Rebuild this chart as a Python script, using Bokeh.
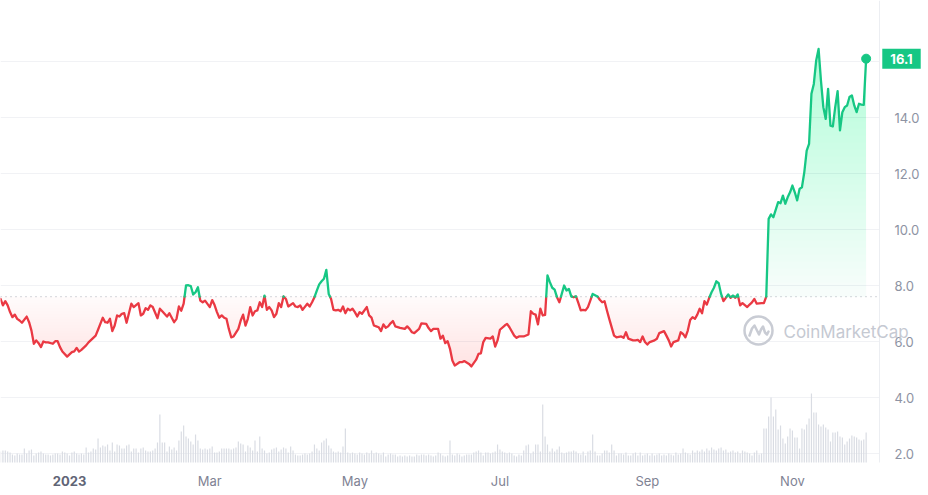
import numpy as np
import pandas as pd
from bokeh.plotting import figure
from bokeh.models import Range1d, FixedTicker, Label
from bokeh.embed import file_html
from bokeh.resources import INLINE

# ---------------- data ----------------
START = "2022-12-01"          # day 0
BASELINE = 7.60               # reference price of the period (dotted line)

price_day = [
    2, 3, 4, 5, 6, 7, 8, 9, 10, 11,
    13, 14, 15, 16, 17, 18, 19, 20, 21, 22,
    24, 25, 26, 27, 28, 30, 31, 32, 33, 34,
    35, 36, 38, 39, 41, 42, 43, 45, 46, 47,
    48, 49, 50, 51, 52, 53, 54, 55, 56, 57,
    58, 60, 61, 62, 63, 64, 65, 66, 68, 69,
    70, 72, 73, 75, 76, 77, 78, 79, 80, 81,
    82, 83, 84, 85, 86, 87, 88, 90, 91, 92,
    93, 94, 95, 96, 97, 98, 99, 100, 102, 103,
    104, 105, 106, 107, 108, 109, 110, 111, 112, 113,
    114, 115, 116, 117, 118, 119, 120, 121, 122, 123,
    125, 126, 127, 128, 129, 131, 132, 133, 134, 135,
    136, 137, 138, 139, 140, 141, 142, 143, 144, 145,
    146, 147, 148, 149, 150, 151, 152, 153, 154, 156,
    157, 158, 159, 160, 161, 162, 163, 164, 165, 166,
    167, 168, 170, 172, 173, 174, 175, 176, 178, 179,
    181, 182, 183, 184, 186, 187, 188, 189, 190, 191,
    192, 193, 195, 196, 197, 199, 200, 202, 203, 204,
    205, 206, 208, 209, 210, 211, 212, 214, 215, 216,
    218, 219, 220, 222, 224, 225, 226, 227, 228, 229,
    230, 231, 232, 233, 234, 235, 236, 237, 238, 239,
    240, 241, 242, 243, 244, 245, 246, 247, 248, 249,
    250, 251, 253, 254, 255, 256, 257, 258, 260, 261,
    263, 264, 265, 266, 268, 269, 270, 271, 272, 273,
    274, 275, 277, 278, 279, 281, 282, 283, 284, 285,
    287, 288, 289, 290, 291, 292, 293, 294, 295, 296,
    297, 298, 299, 300, 301, 302, 303, 304, 305, 306,
    307, 308, 309, 310, 311, 312, 313, 314, 316, 317,
    318, 319, 320, 322, 323, 324, 325, 326, 327, 329,
    330, 331, 332, 333, 334, 335, 336, 337, 338, 339,
    340, 341, 342, 343, 344, 345, 346, 347, 348, 349,
    350, 351, 352, 353, 354, 355, 356, 357, 358, 359,
    360, 361, 362, 363, 364, 365, 366,
]
price = [
    7.52, 7.29, 7.44, 7.29, 7.05, 6.87, 6.96, 6.81, 6.75, 6.67,
    6.89, 6.69, 6.39, 5.92, 6.04, 5.94, 5.80, 6.00, 5.97, 5.97,
    5.92, 6.01, 6.01, 5.80, 5.64, 5.46, 5.54, 5.62, 5.65, 5.77,
    5.64, 5.70, 5.86, 5.97, 6.13, 6.21, 6.42, 6.85, 6.69, 6.67,
    6.81, 6.37, 6.57, 6.93, 6.89, 6.99, 7.01, 6.67, 7.01, 7.35,
    7.23, 7.37, 6.93, 6.99, 7.19, 7.13, 7.29, 7.23, 6.83, 7.17,
    7.08, 6.89, 7.01, 6.69, 6.81, 7.25, 7.10, 7.35, 8.00, 8.01,
    7.98, 7.68, 7.76, 7.94, 7.46, 7.40, 7.46, 7.23, 7.48, 7.30,
    7.05, 6.85, 6.93, 6.85, 6.81, 6.45, 6.15, 6.18, 6.45, 6.75,
    6.96, 6.57, 6.81, 7.23, 6.93, 7.08, 7.11, 7.40, 7.23, 7.64,
    7.13, 7.23, 7.11, 6.87, 6.99, 7.37, 7.23, 7.61, 7.52, 7.25,
    7.37, 7.25, 7.23, 7.29, 7.13, 7.35, 7.25, 7.40, 7.58, 7.82,
    8.04, 8.15, 8.24, 8.56, 7.70, 7.52, 7.13, 7.11, 7.13, 7.08,
    7.25, 7.01, 7.17, 7.11, 7.17, 7.05, 6.89, 7.05, 6.99, 7.23,
    6.93, 6.85, 6.57, 6.54, 6.51, 6.37, 6.61, 6.49, 6.54, 6.65,
    6.73, 6.54, 6.49, 6.45, 6.54, 6.45, 6.33, 6.30, 6.45, 6.65,
    6.63, 6.48, 6.37, 6.45, 6.45, 6.10, 6.21, 5.94, 6.01, 5.74,
    5.32, 5.14, 5.26, 5.26, 5.30, 5.20, 5.11, 5.35, 5.56, 5.58,
    5.98, 6.13, 6.10, 6.18, 5.82, 6.04, 6.42, 6.57, 6.63, 6.51,
    6.21, 6.13, 6.18, 6.18, 6.25, 7.08, 6.99, 6.96, 6.61, 7.17,
    6.93, 6.95, 8.36, 8.12, 7.92, 7.85, 7.58, 7.40, 7.70, 8.00,
    7.82, 7.88, 7.61, 7.58, 7.61, 7.37, 7.11, 7.13, 7.11, 7.23,
    7.46, 7.70, 7.61, 7.49, 7.40, 7.44, 7.11, 6.80, 6.21, 6.15,
    6.18, 6.13, 6.33, 6.10, 6.04, 6.04, 6.06, 5.98, 6.18, 5.98,
    5.89, 5.98, 6.04, 6.10, 6.30, 6.37, 6.21, 6.04, 5.82, 5.98,
    6.04, 6.33, 6.27, 6.15, 6.39, 6.77, 6.87, 6.81, 6.96, 7.17,
    7.01, 7.44, 7.32, 7.56, 7.76, 7.92, 8.15, 8.08, 7.70, 7.44,
    7.56, 7.68, 7.56, 7.64, 7.56, 7.68, 7.29, 7.37, 7.23, 7.32,
    7.40, 7.52, 7.35, 7.37, 7.37, 7.60, 10.38, 10.54, 10.44, 10.98,
    10.94, 11.21, 10.92, 11.15, 11.33, 11.57, 11.33, 11.04, 11.45, 11.51,
    12.05, 12.82, 13.06, 14.85, 15.20, 16.04, 16.45, 15.32, 14.37, 13.95,
    15.02, 13.71, 13.68, 14.37, 14.94, 13.54, 14.19, 14.37, 14.43, 14.73,
    14.79, 14.43, 14.19, 14.49, 14.46, 14.45, 16.10,
]

VOL_FIRST_DAY = 2             # one bar per day from here on
volume = [
    11, 12, 12, 11, 10, 8, 7, 9, 8,
    8, 14, 9, 12, 13, 7,
    9, 10, 11, 9, 8, 8, 7, 8, 9, 9,
    8, 11, 10, 9, 7, 10, 11, 9, 8, 9,
    8, 15, 10, 11, 14, 13,
    24,
    15, 17, 16, 18, 12, 20, 11,
    18, 17, 14, 14, 17, 18, 11, 14, 14, 10,
    14, 15, 12, 11, 11, 12, 14, 20, 48, 20,
    20, 11, 16, 13, 15, 12, 22, 31, 37, 26,
    24, 21, 18, 28, 22, 14, 13, 14, 13, 14,
    16, 10, 10, 11, 14, 14, 14, 14, 13, 14,
    15, 21, 19, 18, 11, 17, 15, 12, 22, 11, 26,
    14, 12, 9, 10, 13, 14, 15, 11, 13, 15, 14, 10, 16, 12,
    8, 7, 7, 8, 9, 8, 9,
    11, 18, 14, 12, 20, 22, 24, 17, 14, 11, 10, 11, 10, 16, 34, 10,
    9, 10, 9, 8, 10, 9, 8, 10, 9, 12, 9, 10, 9, 8, 10, 6, 8, 9, 8, 8,
    6, 7, 6, 7, 6, 7, 6, 6, 8, 7, 8, 8, 7, 8, 7, 6, 7,
    10, 9, 7, 6, 7, 22, 8, 7, 9, 8, 6, 7, 8, 8, 8, 10, 11, 12, 10, 7,
    10, 10, 9, 10, 11, 18, 13, 11, 10, 9, 10, 9, 7, 6, 8, 7,
    12, 17, 18, 9, 11, 18, 18, 11, 58, 26, 18, 11, 14, 11, 13, 16, 10, 9,
    10, 11, 11, 12, 11, 9, 8, 11, 7, 11, 12, 28,
    11, 7, 7, 9, 12, 12, 10, 18, 12, 7, 9, 9, 8, 10, 7, 7, 9, 10, 7, 10,
    7, 8, 9, 7, 9, 7, 8, 9, 7, 8, 7, 9, 8, 7,
    10, 8, 9, 14, 10, 9, 8, 12, 10, 12, 11, 13, 11, 14, 12, 15, 13, 12, 14,
    15, 12, 13, 10, 11, 12, 10, 11, 9, 12, 11, 10, 9, 7, 10, 12, 8, 9,
    34, 34, 46, 65, 46, 53, 33, 37, 24, 19, 26, 34, 32, 25, 25, 14, 34, 33,
    38, 44, 69, 50, 50, 38, 36, 38, 35, 33, 21, 30, 30, 31, 26, 25, 18, 21,
    24, 27, 26, 25, 23, 22, 23, 30,
]

price_ticks = [2, 4, 6, 8, 10, 12, 14, 16]
price_tick_labels = ["2.0", "4.0", "6.0", "8.0", "10.0", "12.0", "14.0", ""]
month_ticks = ["2023-03-01", "2023-05-01", "2023-07-01", "2023-09-01", "2023-11-01"]
month_labels = ["Mar", "May", "Jul", "Sep", "Nov"]
year_tick = "2023-01-01"
year_label = "2023"
watermark = "CoinMarketCap"

assert len(price_day) == len(price)

# ---------------- layout constants (pixel <-> data) ----------------
W, H = 928, 495
PX_PER_DAY = 2.378
DAY_AT_X0 = 1.98              # date at the left edge of the canvas
PX_PER_UNIT = 28.0
Y_AT_PX_453 = 2.0             # price at canvas row 453
PLOT_RIGHT_PX = 879           # right border of the price area
PLOT_BOTTOM_PX = 462          # bottom of the price/volume area

GREEN = "#16c784"
RED = "#ea3943"
DAY_MS = 86400000.0
T0 = pd.Timestamp(START).value / 1e6


def day_ms(d):
    return T0 + np.asarray(d, dtype=float) * DAY_MS


def date_ms(s):
    return pd.Timestamp(s).value / 1e6


def px_day(px):
    return DAY_AT_X0 + px / PX_PER_DAY


def py_val(py):
    return Y_AT_PX_453 + (453 - py) / PX_PER_UNIT


X_END_DAY = px_day(PLOT_RIGHT_PX)
Y_BOTTOM = py_val(PLOT_BOTTOM_PX)

pd_arr = np.array(price_day, dtype=float)
pr_arr = np.array(price, dtype=float)

# split line into parts above / below the baseline
xs, ys = [pd_arr[0]], [pr_arr[0]]
for i in range(1, len(pd_arr)):
    a, b = pr_arr[i - 1] - BASELINE, pr_arr[i] - BASELINE
    if a * b < 0:
        f = a / (a - b)
        xs.append(pd_arr[i - 1] + f * (pd_arr[i] - pd_arr[i - 1]))
        ys.append(BASELINE)
    xs.append(pd_arr[i])
    ys.append(pr_arr[i])
xs = np.array(xs)
ys = np.array(ys)
up = np.where(ys >= BASELINE, ys, np.nan)
dn = np.where(ys <= BASELINE, ys, np.nan)

# fine geometry for the gradient fills (drawn from the same series)
fd = np.union1d(np.arange(pd_arr[0], pd_arr[-1], 0.2), xs)
fp = np.interp(fd, xs, ys)
fx = day_ms(fd)

# ---------------- figure ----------------
p = figure(
    x_axis_type="datetime",
    y_axis_location="right",
    frame_width=W, frame_height=H,
    x_range=Range1d(day_ms(px_day(0)), day_ms(px_day(W))),
    y_range=Range1d(py_val(H), py_val(0)),
    output_backend="svg", toolbar_location=None,
    min_border=0,
    background_fill_color="white", border_fill_color="white",
    outline_line_color=None,
)
p.extra_y_ranges = {"vol": Range1d(-(H - PLOT_BOTTOM_PX), PLOT_BOTTOM_PX)}
p.xgrid.visible = False
p.ygrid.visible = False

# horizontal grid lines (price area only)
x_left, x_right = day_ms(px_day(0)), day_ms(X_END_DAY)
p.segment(x0=[x_left] * len(price_ticks), x1=[x_right] * len(price_ticks),
          y0=price_ticks, y1=price_ticks, line_color="#f1f2f5", line_width=1)

# volume bars
vol_x = day_ms(np.arange(len(volume)) + VOL_FIRST_DAY)
p.vbar(x=vol_x, top=volume, bottom=0, width=0.5 * DAY_MS,
       y_range_name="vol", fill_color="#d9dce3", line_color=None)

# green gradient (line down to baseline)
p.varea(x=fx, y1=BASELINE, y2=np.maximum(fp, BASELINE),
        fill_color=GREEN, fill_alpha=0.035)
for lvl in np.arange(BASELINE + 0.25, 16.6, 0.25):
    p.varea(x=fx, y1=lvl, y2=np.maximum(fp, lvl),
            fill_color=GREEN, fill_alpha=0.0075)

# red gradient (baseline down to line)
p.varea(x=fx, y1=np.minimum(fp, BASELINE), y2=BASELINE,
        fill_color=RED, fill_alpha=0.02)
for lvl in np.arange(BASELINE - 0.1, 5.0, -0.1):
    p.varea(x=fx, y1=np.minimum(fp, lvl), y2=lvl,
            fill_color=RED, fill_alpha=0.005)

# dotted baseline
p.segment(x0=[x_left], x1=[x_right], y0=[BASELINE], y1=[BASELINE],
          line_color="#a9aeb8", line_width=1, line_dash="1 4")

# price line
p.line(day_ms(xs), dn, line_color=RED, line_width=2.3, line_join="round", line_cap="round")
p.line(day_ms(xs), up, line_color=GREEN, line_width=2.3, line_join="round", line_cap="round")
p.scatter(x=[day_ms(price_day[-1])], y=[price[-1]], size=9, fill_color=GREEN,
          line_color=GREEN)

# watermark (logo ring + wave + text)
wm_day, wm_val = px_day(758), py_val(330)
p.scatter(x=[day_ms(wm_day)], y=[wm_val], size=28, fill_color=None,
          line_color="#c9ccd4", line_width=2.5)
wave_dx = np.array([-9, -6.5, -4, -1.5, 0.5, 2.5, 4.5, 6.5, 8.5, 10])
wave_dy = np.array([5, -2, -5, 0, 4, -1, -4, 2, 4, 1])
p.line(day_ms(wm_day + wave_dx / PX_PER_DAY), wm_val - wave_dy / PX_PER_UNIT,
       line_color="#c9ccd4", line_width=2.5, line_join="round", line_cap="round")
p.add_layout(Label(x=day_ms(px_day(783)), y=py_val(331), text=watermark,
                   text_font="Inter", text_font_size="17px", text_color="#c5c9d2",
                   text_align="left", text_baseline="middle"))

# axes (drawn at fixed positions inside the canvas)
ya = p.yaxis[0]
ya.fixed_location = day_ms(X_END_DAY)
ya.bounds = (Y_BOTTOM, py_val(0))
ya.ticker = FixedTicker(ticks=price_ticks)
ya.major_label_overrides = {t: l for t, l in zip(price_ticks, price_tick_labels)}
ya.major_tick_line_color = None
ya.minor_tick_line_color = None
ya.axis_line_color = "#eceef2"
ya.major_label_standoff = 9
ya.major_label_text_font = "Inter"
ya.major_label_text_font_size = "13px"
ya.major_label_text_color = "#8e93a3"

xa = p.xaxis[0]
xa.fixed_location = Y_BOTTOM
mt = [date_ms(s) for s in month_ticks]
xa.ticker = FixedTicker(ticks=mt)
xa.major_label_overrides = {t: l for t, l in zip(mt, month_labels)}
xa.major_tick_line_color = None
xa.minor_tick_line_color = None
xa.axis_line_color = None
xa.major_label_standoff = 4
xa.major_label_text_font = "Inter"
xa.major_label_text_font_size = "13px"
xa.major_label_text_color = "#7f8394"

p.add_layout(Label(x=date_ms(year_tick), y=py_val(480), text=year_label, text_font="Inter",
                   text_font_size="13px", text_font_style="bold",
                   text_color="#616576", text_align="center", text_baseline="middle"))

# last price tag
p.add_layout(Label(x=day_ms(px_day(901)), y=price[-1], text=f"{price[-1]:.1f}",
                   text_font="Inter", text_font_size="13px", text_font_style="bold",
                   text_color="white", text_align="center", text_baseline="middle",
                   background_fill_color=GREEN,
                   padding=dict(left=8, right=8, top=5, bottom=5)))

open("out.html", "w").write(file_html(p, INLINE))
